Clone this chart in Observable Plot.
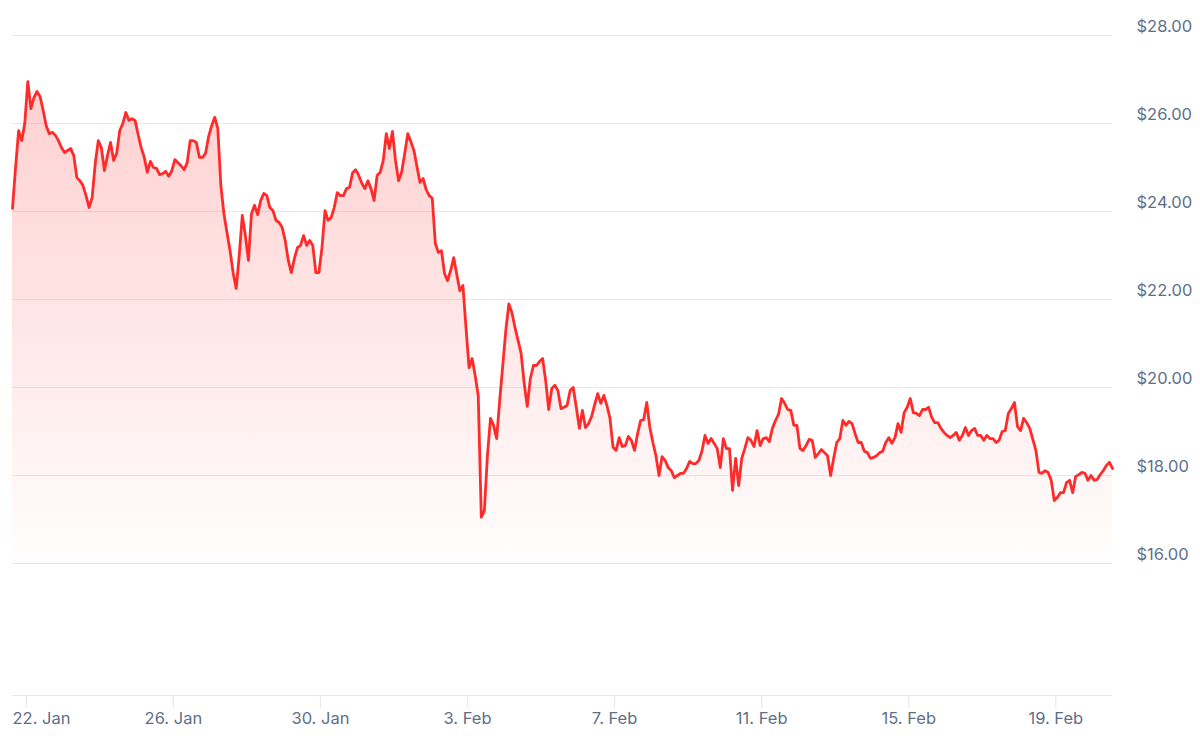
<!DOCTYPE html>
<html>
<head>
<meta charset="utf-8">
<script src="https://cdn.jsdelivr.net/npm/d3@7"></script>
<script src="https://cdn.jsdelivr.net/npm/@observablehq/plot@0.6"></script>
<style>
  html, body { margin: 0; padding: 0; background: #ffffff; }
  #chart { width: 1200px; height: 739px; overflow: hidden; }
</style>
</head>
<body>
<div id="chart"></div>
<script>
// ---- Data ----
const seriesStart = "2025-01-21T15:00:00Z"; // first sample
const sampleHours = 2;                        // spacing between samples

const prices = [
  24.07, 25.00, 25.84, 25.61, 26.00, 26.95, 26.34, 26.59, 26.73, 26.61,
  26.30, 25.95, 25.77, 25.80, 25.73, 25.61, 25.45, 25.34, 25.39, 25.43,
  25.27, 24.77, 24.70, 24.59, 24.36, 24.09, 24.32, 25.09, 25.61, 25.45,
  24.93, 25.27, 25.57, 25.16, 25.32, 25.84, 26.00, 26.25, 26.07, 26.11,
  26.07, 25.75, 25.45, 25.23, 24.89, 25.14, 25.00, 24.98, 24.84, 24.86,
  24.91, 24.80, 24.93, 25.18, 25.11, 25.04, 24.95, 25.11, 25.61, 25.61,
  25.57, 25.23, 25.23, 25.32, 25.70, 25.95, 26.14, 25.89, 24.59, 23.95,
  23.52, 23.11, 22.61, 22.25, 23.00, 23.91, 23.45, 22.89, 23.95, 24.14,
  23.93, 24.25, 24.41, 24.36, 24.09, 24.02, 23.80, 23.75, 23.64, 23.34,
  22.89, 22.61, 22.93, 23.18, 23.23, 23.45, 23.23, 23.34, 23.23, 22.61,
  22.61, 23.18, 24.02, 23.80, 23.86, 24.09, 24.43, 24.36, 24.36, 24.52,
  24.55, 24.88, 24.95, 24.82, 24.64, 24.52, 24.70, 24.52, 24.25, 24.82,
  24.89, 25.16, 25.77, 25.43, 25.82, 25.16, 24.70, 24.89, 25.32, 25.77,
  25.59, 25.39, 25.02, 24.66, 24.75, 24.50, 24.36, 24.30, 23.27, 23.07,
  23.11, 22.59, 22.43, 22.66, 22.95, 22.57, 22.20, 22.32, 21.36, 20.45,
  20.66, 20.27, 19.82, 17.05, 17.20, 18.45, 19.30, 19.14, 18.84, 19.70,
  20.50, 21.30, 21.90, 21.70, 21.36, 21.07, 20.77, 20.09, 19.57, 20.20,
  20.50, 20.50, 20.59, 20.66, 20.16, 19.50, 19.98, 20.05, 19.93, 19.52,
  19.55, 19.59, 19.93, 20.00, 19.55, 19.07, 19.48, 19.09, 19.18, 19.34,
  19.61, 19.86, 19.64, 19.82, 19.59, 19.30, 18.64, 18.57, 18.86, 18.66,
  18.68, 18.89, 18.80, 18.57, 18.95, 19.25, 19.27, 19.66, 19.09, 18.75,
  18.45, 18.00, 18.43, 18.34, 18.18, 18.11, 17.95, 18.00, 18.05, 18.05,
  18.16, 18.32, 18.27, 18.27, 18.34, 18.55, 18.91, 18.73, 18.84, 18.73,
  18.61, 18.18, 18.84, 18.61, 18.61, 17.66, 18.39, 17.77, 18.39, 18.61,
  18.86, 18.80, 18.66, 19.02, 18.68, 18.84, 18.86, 18.77, 19.07, 19.25,
  19.39, 19.75, 19.64, 19.50, 19.48, 19.14, 19.14, 18.61, 18.57, 18.68,
  18.82, 18.80, 18.41, 18.50, 18.59, 18.52, 18.45, 18.00, 18.39, 18.75,
  18.84, 19.25, 19.14, 19.23, 19.18, 18.95, 18.75, 18.75, 18.55, 18.52,
  18.39, 18.41, 18.45, 18.52, 18.55, 18.75, 18.86, 18.73, 18.86, 19.18,
  18.98, 19.43, 19.55, 19.75, 19.43, 19.41, 19.36, 19.50, 19.50, 19.55,
  19.32, 19.20, 19.20, 19.07, 18.98, 18.91, 18.86, 18.91, 18.98, 18.80,
  18.91, 19.09, 18.91, 19.02, 19.07, 18.91, 18.91, 18.80, 18.91, 18.84,
  18.84, 18.75, 18.80, 19.00, 19.02, 19.41, 19.52, 19.66, 19.11, 19.02,
  19.30, 19.20, 19.07, 18.82, 18.57, 18.07, 18.05, 18.11, 18.07, 17.89,
  17.43, 17.50, 17.61, 17.61, 17.84, 17.89, 17.61, 17.98, 18.02, 18.07,
  18.05, 17.89, 18.00, 17.89, 17.91, 18.02, 18.11, 18.23, 18.30, 18.16
];

const xTickDates = ["2025-01-22", "2025-01-26", "2025-01-30", "2025-02-03",
                    "2025-02-07", "2025-02-11", "2025-02-15", "2025-02-19"];
const yTickValues = [16, 18, 20, 22, 24, 26, 28];
const yDomain = [13, 28];

// ---- Build table ----
const t0 = new Date(seriesStart).getTime();
const data = prices.map((p, i) => ({ date: new Date(t0 + i * sampleHours * 3600e3), price: p }));
const xTicks = xTickDates.map(d => new Date(d + "T00:00:00Z"));
const xDomain = [data[0].date, data[data.length - 1].date];
const fmtX = d3.utcFormat("%-d. %b");
const fmtY = d3.format("$.2f");

const gridColor = "#e6e9ef";
const textColor = "#5f6f88";
const lineColor = "#ff2b2b";
const labelSize = 16.5;

const chart = Plot.plot({
  width: 1200,
  height: 739,
  marginLeft: 12,
  marginRight: 88,
  marginTop: 35,
  marginBottom: 44,
  x: { type: "utc", domain: xDomain, axis: null },
  y: { domain: yDomain, axis: null },
  style: { fontFamily: "Inter, 'Noto Sans', sans-serif", fontSize: "16px", background: "#ffffff", overflow: "visible" },
  marks: [
    Plot.ruleY(yTickValues, { stroke: gridColor, strokeWidth: 1 }),
    Plot.ruleY([yDomain[0]], { stroke: gridColor, strokeWidth: 1.2 }),
    Plot.axisX({ ticks: xTicks, tickSize: 13, tickFormat: () => "", stroke: gridColor, strokeOpacity: 1, strokeWidth: 1.2 }),
    Plot.areaY(data, { x: "date", y1: yDomain[0], y2: "price", fill: "url(#areaFade)", curve: "linear" }),
    Plot.lineY(data, { x: "date", y: "price", stroke: lineColor, strokeWidth: 2.8, curve: "linear", strokeLinejoin: "round" }),
    Plot.text(xTicks.slice(0, 1), { x: () => xDomain[0], y: () => yDomain[0], dy: 23, text: fmtX, textAnchor: "start", fill: textColor, fontSize: labelSize }),
    Plot.text(xTicks.slice(1), { x: d => d, y: () => yDomain[0], dy: 23, text: fmtX, textAnchor: "middle", fill: textColor, fontSize: labelSize }),
    Plot.text(yTickValues, { x: () => xDomain[1], y: d => d, dx: 24, dy: -9, text: fmtY, textAnchor: "start", fill: textColor, fontSize: labelSize })
  ]
});

const defs = d3.select(chart).insert("defs", ":first-child");
const grad = defs.append("linearGradient").attr("id", "areaFade")
  .attr("x1", 0).attr("y1", 0).attr("x2", 0).attr("y2", 1);
grad.append("stop").attr("offset", 0).attr("stop-color", "#ff3b3b").attr("stop-opacity", 0.24);
grad.append("stop").attr("offset", 0.45).attr("stop-color", "#ff3b3b").attr("stop-opacity", 0.11);
grad.append("stop").attr("offset", 0.8).attr("stop-color", "#ff3b3b").attr("stop-opacity", 0);

document.getElementById("chart").appendChild(chart);
</script>
</body>
</html>
